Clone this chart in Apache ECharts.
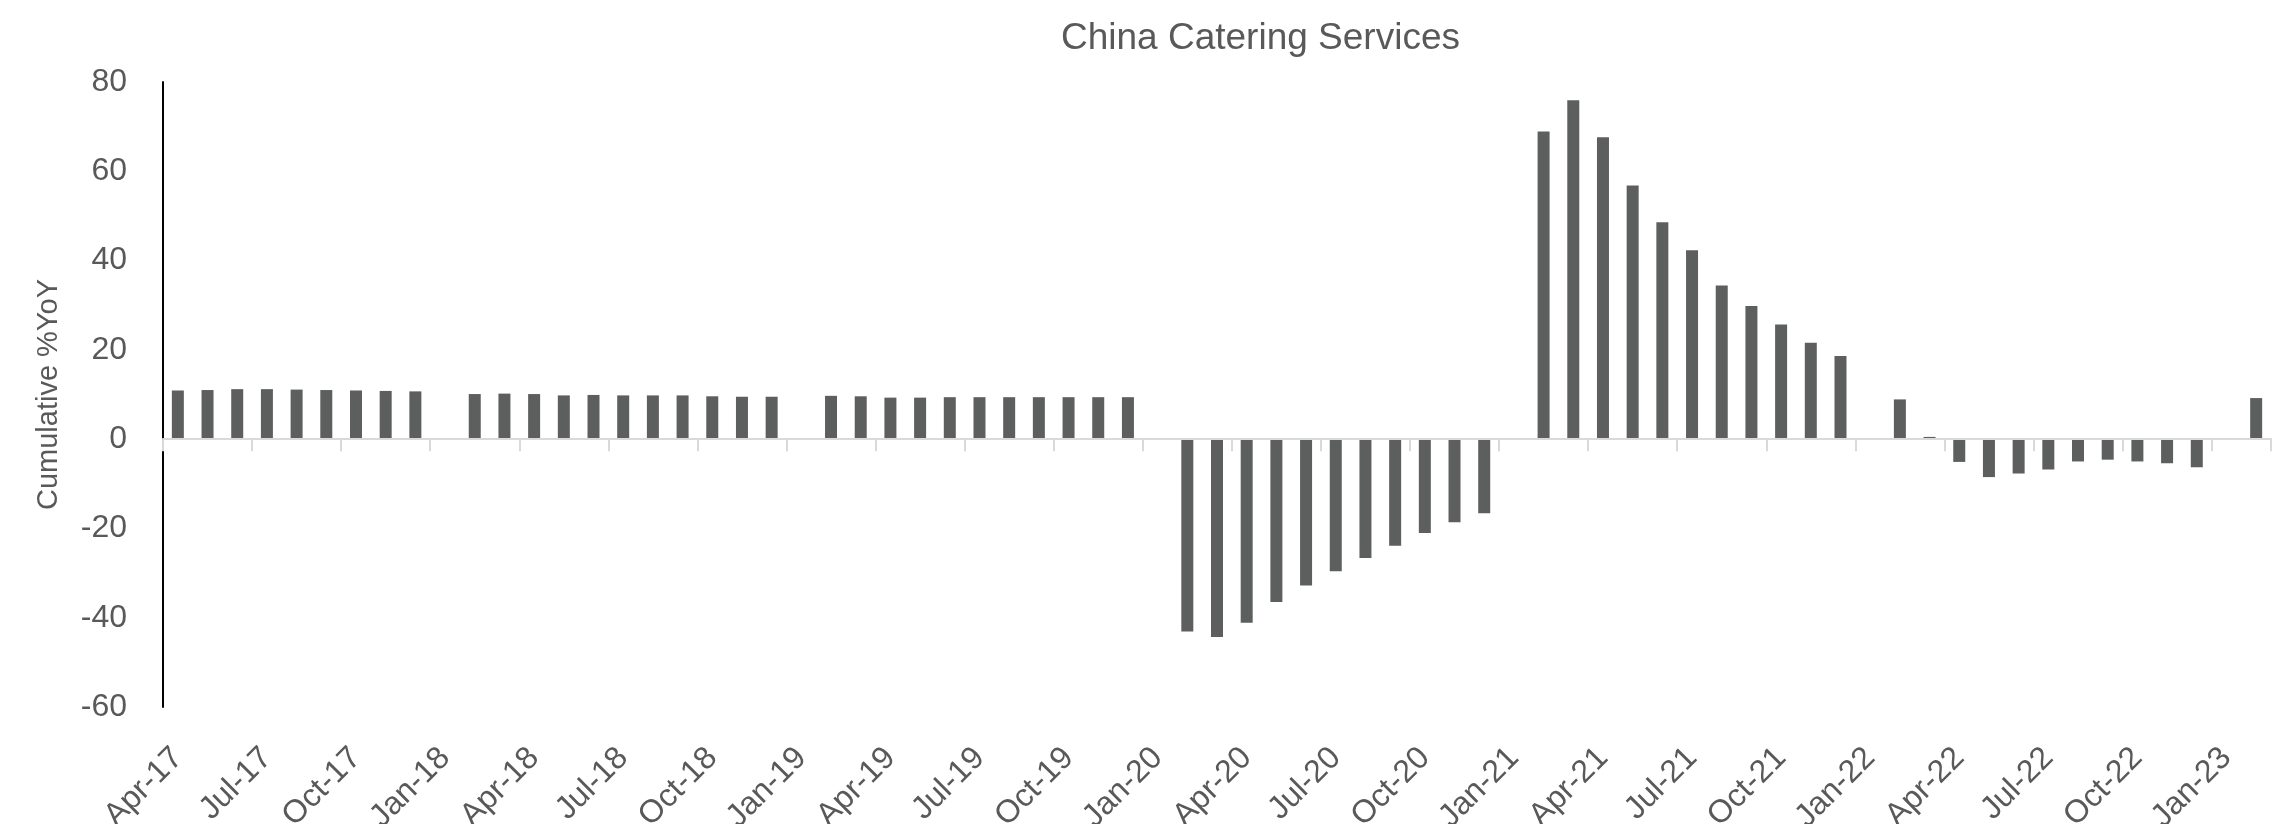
<!DOCTYPE html>
<html>
<head>
<meta charset="utf-8">
<script src="https://cdn.jsdelivr.net/npm/echarts@6/dist/echarts.min.js"></script>
<style>
html,body{margin:0;padding:0;background:#fff;}
#chart{width:2284px;height:824px;}
</style>
</head>
<body>
<div id="chart"></div>
<script>
const categories = [
  'Apr-17','May-17','Jun-17','Jul-17','Aug-17','Sep-17','Oct-17','Nov-17','Dec-17',
  'Jan-18','Feb-18','Mar-18','Apr-18','May-18','Jun-18','Jul-18','Aug-18','Sep-18','Oct-18','Nov-18','Dec-18',
  'Jan-19','Feb-19','Mar-19','Apr-19','May-19','Jun-19','Jul-19','Aug-19','Sep-19','Oct-19','Nov-19','Dec-19',
  'Jan-20','Feb-20','Mar-20','Apr-20','May-20','Jun-20','Jul-20','Aug-20','Sep-20','Oct-20','Nov-20','Dec-20',
  'Jan-21','Feb-21','Mar-21','Apr-21','May-21','Jun-21','Jul-21','Aug-21','Sep-21','Oct-21','Nov-21','Dec-21',
  'Jan-22','Feb-22','Mar-22','Apr-22','May-22','Jun-22','Jul-22','Aug-22','Sep-22','Oct-22','Nov-22','Dec-22',
  'Jan-23','Feb-23'
];
const values2017 = [10.9, 11.0, 11.2, 11.2, 11.1, 11.0, 10.9, 10.8, 10.7];
const values2018 = [null, 10.1, 10.2, 10.1, 9.8, 9.9, 9.8, 9.8, 9.8, 9.6, 9.5, 9.5];
const values2019 = [null, 9.7, 9.6, 9.3, 9.3, 9.4, 9.4, 9.4, 9.4, 9.4, 9.4, 9.4];
const values2020 = [null, -43.1, -44.3, -41.1, -36.5, -32.8, -29.6, -26.6, -23.9, -21.0, -18.6, -16.6];
const values2021 = [null, 68.9, 75.9, 67.6, 56.8, 48.6, 42.3, 34.4, 29.8, 25.7, 21.6, 18.6];
const values2022 = [null, 8.9, 0.5, -5.1, -8.5, -7.7, -6.8, -5.0, -4.6, -5.0, -5.4, -6.3];
const values2023 = [null, 9.2];
const seriesValues = [].concat(values2017, values2018, values2019, values2020, values2021, values2022, values2023);

const chartTitle = 'China Catering Services';
const yAxisName = 'Cumulative %YoY';

const FONT = '"Liberation Sans", Arial, Helvetica, sans-serif';
const TXT = '#595959';

const chart = echarts.init(document.getElementById('chart'), null, {renderer: 'canvas'});
chart.setOption({
  animation: false,
  backgroundColor: '#ffffff',
  title: {
    text: chartTitle,
    left: 1061,
    top: 20,
    padding: 0,
    textStyle: {fontFamily: FONT, fontSize: 37, fontWeight: 'normal', color: TXT}
  },
  grid: {left: 163, right: 13, top: 82, bottom: 117, containLabel: false, outerBoundsMode: 'none'},
  xAxis: [
    {
      type: 'category',
      data: categories,
      z: 3,
      axisLine: {onZero: true, lineStyle: {color: '#d9d9d9', width: 2}},
      axisTick: {show: true, interval: 2, length: 12, lineStyle: {color: '#d9d9d9', width: 2}},
      axisLabel: {show: false},
      splitLine: {show: false}
    },
    {
      type: 'category',
      data: categories,
      position: 'bottom',
      axisLine: {show: false, onZero: false},
      axisTick: {show: false},
      axisLabel: {
        show: true, interval: 2, rotate: 45, margin: 46,
        fontFamily: FONT, fontSize: 32, color: TXT
      },
      splitLine: {show: false}
    }
  ],
  yAxis: {
    type: 'value',
    min: -60, max: 80, interval: 20,
    z: 1,
    name: yAxisName,
    nameLocation: 'middle',
    nameGap: 100,
    nameTextStyle: {fontFamily: FONT, fontSize: 29, color: TXT},
    axisLine: {show: true, lineStyle: {color: '#000000', width: 2}},
    axisTick: {show: false},
    splitLine: {show: false},
    axisLabel: {margin: 36, fontFamily: FONT, fontSize: 32, color: TXT}
  },
  series: [{
    type: 'bar',
    xAxisIndex: 0,
    data: seriesValues,
    barWidth: 12,
    itemStyle: {color: '#5d5f5e'}
  }]
});
</script>
</body>
</html>
